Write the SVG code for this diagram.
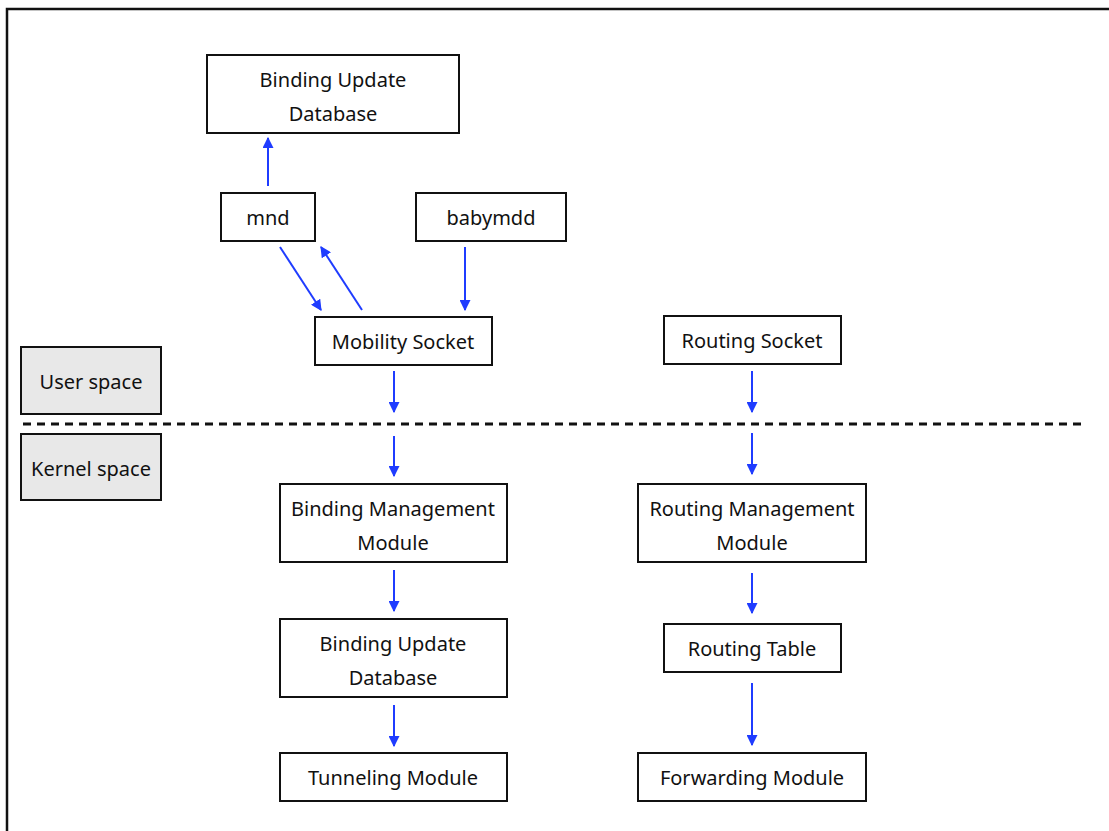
<svg xmlns="http://www.w3.org/2000/svg" width="1109" height="831" viewBox="0 0 1109 831">
  <style>
    .box { fill: #ffffff; stroke: #111111; stroke-width: 2; }
    .side { fill: #e8e8e8; stroke: #111111; stroke-width: 2; }
    .lbl { font-family: "Noto Sans", "Open Sans", "DejaVu Sans", sans-serif; font-size: 20px; fill: #111111; text-anchor: middle; }
    .edge { stroke: #1f3cff; stroke-width: 2; fill: none; marker-end: url(#head); }
  </style>
  <defs>
    <marker id="head" viewBox="0 0 10 10" refX="9" refY="5" markerWidth="5.5" markerHeight="5.5" orient="auto" markerUnits="strokeWidth">
      <path d="M0,0 L10,5 L0,10 z" fill="#1f3cff"/>
    </marker>
  </defs>

  <rect width="1109" height="831" fill="#ffffff"/>
  <!-- outer frame, runs off the right and bottom edges -->
  <rect x="7" y="9" width="1120" height="840" fill="none" stroke="#111111" stroke-width="2.5"/>

  <!-- user / kernel boundary -->
  <line x1="23" y1="424" x2="1085" y2="424" stroke="#111111" stroke-width="3" stroke-dasharray="8,6"/>

  <g id="user-space">
    <rect class="side" x="21" y="347" width="140" height="67"/>
    <text class="lbl" x="91" y="389">User space</text>
  </g>
  <g id="kernel-space">
    <rect class="side" x="21" y="434" width="140" height="66"/>
    <text class="lbl" x="91" y="476">Kernel space</text>
  </g>

  <g id="bud-user">
    <rect class="box" x="207" y="55" width="252" height="78"/>
    <text class="lbl" x="333" y="87">Binding Update</text>
    <text class="lbl" x="333" y="121">Database</text>
  </g>
  <g id="mnd">
    <rect class="box" x="221" y="193" width="94" height="48"/>
    <text class="lbl" x="268" y="225">mnd</text>
  </g>
  <g id="babymdd">
    <rect class="box" x="416" y="193" width="150" height="48"/>
    <text class="lbl" x="491" y="225">babymdd</text>
  </g>
  <g id="mobility-socket">
    <rect class="box" x="315" y="317" width="177" height="48"/>
    <text class="lbl" x="403" y="349">Mobility Socket</text>
  </g>
  <g id="routing-socket">
    <rect class="box" x="664" y="316" width="177" height="48"/>
    <text class="lbl" x="752" y="348">Routing Socket</text>
  </g>
  <g id="binding-mgmt">
    <rect class="box" x="280" y="484" width="227" height="78"/>
    <text class="lbl" x="393" y="516">Binding Management</text>
    <text class="lbl" x="393" y="550">Module</text>
  </g>
  <g id="routing-mgmt">
    <rect class="box" x="638" y="484" width="228" height="78"/>
    <text class="lbl" x="752" y="516">Routing Management</text>
    <text class="lbl" x="752" y="550">Module</text>
  </g>
  <g id="bud-kernel">
    <rect class="box" x="280" y="619" width="227" height="78"/>
    <text class="lbl" x="393" y="651">Binding Update</text>
    <text class="lbl" x="393" y="685">Database</text>
  </g>
  <g id="routing-table">
    <rect class="box" x="664" y="624" width="177" height="48"/>
    <text class="lbl" x="752" y="656">Routing Table</text>
  </g>
  <g id="tunneling">
    <rect class="box" x="280" y="753" width="227" height="48"/>
    <text class="lbl" x="393" y="785">Tunneling Module</text>
  </g>
  <g id="forwarding">
    <rect class="box" x="638" y="753" width="228" height="48"/>
    <text class="lbl" x="752" y="785">Forwarding Module</text>
  </g>

  <g id="connectors">
    <line class="edge" x1="268" y1="186" x2="268" y2="138"/>
    <line class="edge" x1="280" y1="247" x2="321" y2="310"/>
    <line class="edge" x1="362" y1="310" x2="321" y2="247"/>
    <line class="edge" x1="465" y1="247" x2="465" y2="310"/>
    <line class="edge" x1="394" y1="371" x2="394" y2="412"/>
    <line class="edge" x1="752" y1="371" x2="752" y2="412"/>
    <line class="edge" x1="394" y1="436" x2="394" y2="476"/>
    <line class="edge" x1="752" y1="433" x2="752" y2="474"/>
    <line class="edge" x1="394" y1="570" x2="394" y2="611"/>
    <line class="edge" x1="394" y1="705" x2="394" y2="746"/>
    <line class="edge" x1="752" y1="573" x2="752" y2="613"/>
    <line class="edge" x1="752" y1="683" x2="752" y2="745"/>
  </g>
</svg>
